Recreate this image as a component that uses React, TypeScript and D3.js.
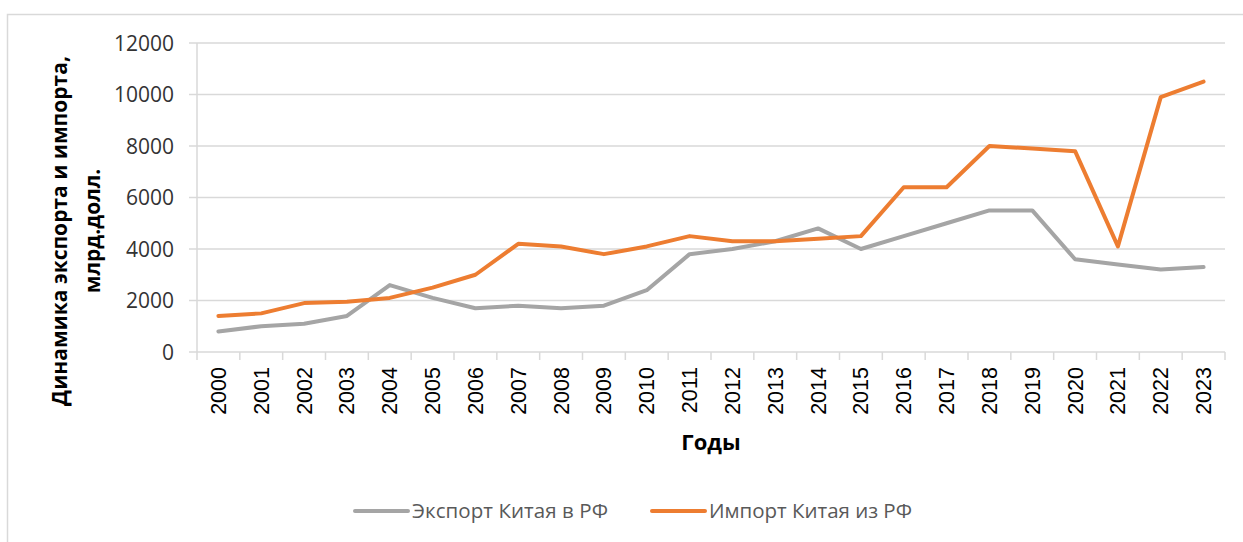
import React from "react";
import * as d3 from "d3";

const years = ["2000","2001","2002","2003","2004","2005","2006","2007","2008","2009","2010","2011","2012","2013","2014","2015","2016","2017","2018","2019","2020","2021","2022","2023"];
const exportValues = [800,1000,1100,1400,2600,2100,1700,1800,1700,1800,2400,3800,4000,4300,4800,4000,4500,5000,5500,5500,3600,3400,3200,3300];
const importValues = [1400,1500,1900,1950,2100,2500,3000,4200,4100,3800,4100,4500,4300,4300,4400,4500,6400,6400,8000,7900,7800,4100,9900,10500];
const yTicks = [0,2000,4000,6000,8000,10000,12000];
const seriesNames = ["Экспорт Китая в РФ", "Импорт Китая из РФ"];
const colors = ["#A5A5A5", "#ED7D31"];

const W = 1243, H = 542;
const left = 197, right = 1225, top = 43, bottom = 352;

export default function App() {
  const x = d3.scaleBand().domain(years).range([left, right]);
  const y = d3.scaleLinear().domain([0, 12000]).range([bottom, top]);
  const line = d3.line<number>()
    .x((_, i) => (x(years[i]) as number) + x.bandwidth() / 2)
    .y(d => y(d));
  const series = [exportValues, importValues];
  const grid = "#d9d9d9";

  return (
    <svg width={W} height={H} style={{ position: "absolute", left: 0, top: 0 }}>
      <rect x={0} y={0} width={W} height={H} fill="#fff" />
      <rect x={7.5} y={14.5} width={W + 10} height={H} fill="#fff" stroke="#d9d9d9" strokeWidth={1.5} />
      {yTicks.map(t => (
        <g key={t}>
          <line x1={left - 8} x2={right} y1={y(t)} y2={y(t)} stroke={grid} strokeWidth={1.5} />
          <text x={174} y={y(t)} dy="0.36em" textAnchor="end" fontFamily="Open Sans" fontSize={21} fill="#333">{t}</text>
        </g>
      ))}
      <line x1={left} x2={left} y1={top} y2={bottom} stroke={grid} strokeWidth={1.5} />
      {years.map(yr => (
        <line key={"t" + yr} x1={x(yr) as number} x2={x(yr) as number} y1={bottom} y2={bottom + 8} stroke={grid} strokeWidth={1.5} />
      ))}
      <line x1={right} x2={right} y1={bottom} y2={bottom + 8} stroke={grid} strokeWidth={1.5} />
      {years.map(yr => {
        const cx = (x(yr) as number) + x.bandwidth() / 2;
        return (
          <text key={yr} transform={`translate(${cx + 7.5},${367}) rotate(-90)`} textAnchor="end"
            fontFamily="Liberation Sans" fontSize={21.5} fill="#000">{yr}</text>
        );
      })}
      {series.map((s, i) => (
        <path key={i} d={line(s) as string} fill="none" stroke={colors[i]} strokeWidth={4} strokeLinejoin="round" strokeLinecap="round" />
      ))}
      <text transform="translate(67,231) rotate(-90)" textAnchor="middle" fontFamily="Open Sans" fontWeight="bold" fontSize={21} fill="#000">Динамика экспорта и импорта,</text>
      <text transform="translate(100,231) rotate(-90)" textAnchor="middle" fontFamily="Open Sans" fontWeight="bold" fontSize={21} fill="#000">млрд.долл.</text>
      <text x={(left + right) / 2} y={450} textAnchor="middle" fontFamily="Open Sans" fontWeight="bold" fontSize={22} fill="#000">Годы</text>
      {seriesNames.map((n, i) => {
        const lx = i === 0 ? 355 : 652;
        return (
          <g key={n}>
            <line x1={lx} x2={lx + 53} y1={511} y2={511} stroke={colors[i]} strokeWidth={4} strokeLinecap="round" />
            <text x={lx + 57} y={511} dy="0.36em" fontFamily="Open Sans" fontSize={20.5} fill="#595959" textLength={i === 0 ? 196 : 203}>{n}</text>
          </g>
        );
      })}
    </svg>
  );
}
